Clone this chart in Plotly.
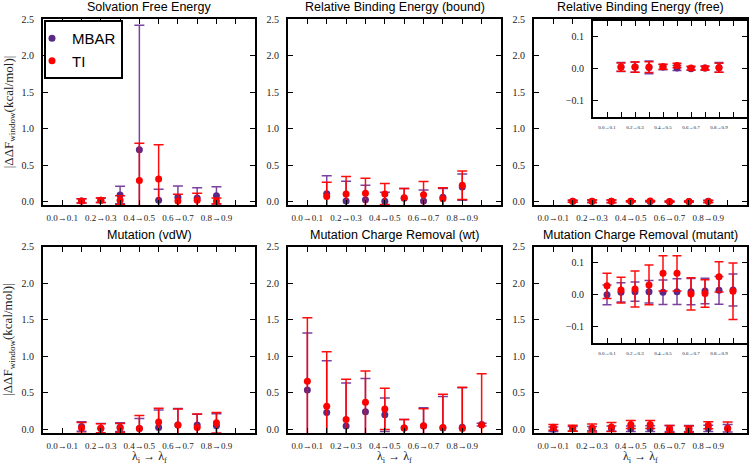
import plotly.graph_objects as go

# ---------------- data ----------------
tick_labels = ["0.0→0.1", "0.2→0.3", "0.4→0.5", "0.6→0.7", "0.8→0.9"]
tick_positions = [0, 2, 4, 6, 8]

titles = ["Solvation Free Energy", "Relative Binding Energy (bound)", "Relative Binding Energy (free)",
          "Mutation (vdW)", "Mutation Charge Removal (wt)", "Mutation Charge Removal (mutant)"]

x_sfe = [1, 2, 3, 4, 5, 6, 7, 8]
mbar_sfe = [0.01, 0.02, 0.09, 0.71, 0.02, 0.06, 0.05, 0.08]
mbar_sfe_err = [0.03, 0.03, 0.12, 1.71, 0.15, 0.155, 0.14, 0.125]
ti_sfe = [0.01, 0.02, 0.02, 0.29, 0.31, 0.01, 0.02, 0.01]
ti_sfe_err = [0.03, 0.03, 0.06, 0.51, 0.47, 0.09, 0.095, 0.04]

x_bound = [1, 2, 3, 4, 5, 6, 7, 8]
mbar_bound = [0.11, 0.01, 0.025, 0.005, 0.045, 0.01, 0.06, 0.20]
mbar_bound_err = [0.245, 0.27, 0.20, 0.125, 0.135, 0.15, 0.12, 0.18]
ti_bound = [0.07, 0.105, 0.115, 0.105, 0.055, 0.095, 0.04, 0.225]
ti_bound_err = [0.195, 0.24, 0.205, 0.145, 0.125, 0.18, 0.15, 0.195]

x_free = [1, 2, 3, 4, 5, 6, 7, 8]
mbar_free = [0.005, 0.005, 0.004, 0.005, 0.002, 0.0, 0.002, 0.004]
mbar_free_err = [0.014, 0.016, 0.02, 0.008, 0.008, 0.005, 0.006, 0.015]
ti_free = [0.005, 0.005, 0.005, 0.006, 0.01, 0.002, 0.002, 0.003]
ti_free_err = [0.013, 0.016, 0.017, 0.008, 0.007, 0.006, 0.006, 0.014]

x_vdw = [1, 2, 3, 4, 5, 6, 7, 8]
mbar_vdw = [0.04, 0.01, 0.03, 0.01, 0.025, 0.06, 0.06, 0.05]
mbar_vdw_err = [0.065, 0.07, 0.06, 0.14, 0.24, 0.225, 0.145, 0.165]
ti_vdw = [0.02, 0.015, 0.02, 0.01, 0.10, 0.06, 0.025, 0.09]
ti_vdw_err = [0.075, 0.06, 0.06, 0.18, 0.19, 0.22, 0.185, 0.14]

x_wt = [0, 1, 2, 3, 4, 5, 6, 7, 8, 9]
mbar_wt = [0.54, 0.23, 0.045, 0.24, 0.20, 0.02, 0.045, 0.02, 0.03, 0.065]
mbar_wt_err = [0.78, 0.71, 0.59, 0.455, 0.23, 0.115, 0.25, 0.43, 0.54, 0.02]
ti_wt = [0.66, 0.315, 0.135, 0.37, 0.28, 0.02, 0.05, 0.025, 0.01, 0.06]
ti_wt_err = [0.867, 0.748, 0.55, 0.43, 0.283, 0.115, 0.233, 0.455, 0.565, 0.70]

x_mut = [0, 1, 2, 3, 4, 5, 6, 7, 8, 9]
mbar_mut = [0.0, 0.008, 0.01, 0.01, 0.008, 0.01, 0.01, 0.012, 0.014, 0.015]
mbar_mut_err = [0.031, 0.03, 0.03, 0.035, 0.038, 0.04, 0.041, 0.04, 0.043, 0.05]
ti_mut = [0.028, 0.015, 0.018, 0.031, 0.067, 0.067, 0.003, 0.004, 0.056, 0.011]
ti_mut_err = [0.039, 0.04, 0.056, 0.062, 0.055, 0.055, 0.05, 0.043, 0.047, 0.088]

main_yticks = [0.0, 0.5, 1.0, 1.5, 2.0, 2.5]
main_yticklabels = ["0.0", "0.5", "1.0", "1.5", "2.0", "2.5"]
inset_yticks = [-0.1, 0.0, 0.1]
inset_yticklabels = ["−0.1", "0.0", "0.1"]

# ---------------- style ----------------
W, H = 750, 465
MBAR_C = "#5b2a86"
MBAR_ERR = "rgba(110,45,150,0.9)"
TI_C = "#ff0000"
TI_ERR = "rgba(255,0,0,0.95)"
SERIF = "Liberation Serif"
SANS = "Liberation Sans"

def px_x(a, b):
    return [a / W, b / W]

def px_y(top, bottom):
    return [1 - bottom / H, 1 - top / H]

col_x = [(43, 255), (288, 501), (534, 747)]
row_y = [(19.3, 205.3), (246.7, 433.0)]

datasets = [
    (x_sfe, mbar_sfe, mbar_sfe_err, ti_sfe, ti_sfe_err),
    (x_bound, mbar_bound, mbar_bound_err, ti_bound, ti_bound_err),
    (x_free, mbar_free, mbar_free_err, ti_free, ti_free_err),
    (x_vdw, mbar_vdw, mbar_vdw_err, ti_vdw, ti_vdw_err),
    (x_wt, mbar_wt, mbar_wt_err, ti_wt, ti_wt_err),
    (x_mut, mbar_mut, mbar_mut_err, ti_mut, ti_mut_err),
]

fig = go.Figure()
layout = dict(
    width=W, height=H, margin=dict(l=0, r=0, t=0, b=0, autoexpand=False),
    paper_bgcolor="white", plot_bgcolor="white",
    showlegend=True,
    annotations=[],
)

def axis_common(font_size):
    return dict(showline=True, linecolor="black", linewidth=2, mirror="allticks",
                ticks="inside", ticklen=5, tickwidth=1, tickcolor="black",
                showgrid=False, zeroline=False,
                tickfont=dict(family=SERIF, size=font_size, color="#222"))

def add_pair(xs, m, me, t, te, axn, show_legend, msize, capw):
    xa = "x" if axn == 1 else f"x{axn}"
    ya = "y" if axn == 1 else f"y{axn}"
    fig.add_trace(go.Scatter(
        x=xs, y=m, mode="markers", name="MBAR", xaxis=xa, yaxis=ya,
        showlegend=show_legend, legendrank=1,
        marker=dict(color=MBAR_C, size=msize),
        error_y=dict(type="data", array=me, color=MBAR_ERR, thickness=1.5, width=capw)))
    fig.add_trace(go.Scatter(
        x=xs, y=t, mode="markers", name="TI", xaxis=xa, yaxis=ya,
        showlegend=show_legend, legendrank=2,
        marker=dict(color=TI_C, size=msize),
        error_y=dict(type="data", array=te, color=TI_ERR, thickness=1.5, width=capw)))

def x_axis(font_size, domain, anchor, standoff):
    xa = axis_common(font_size)
    xa.update(domain=domain, range=[-1, 10], tickmode="array",
              tickvals=tick_positions, ticktext=tick_labels, anchor=anchor,
              ticklabelstandoff=standoff,
              minor=dict(tick0=0, dtick=1, ticks="inside", ticklen=5,
                         tickwidth=1, tickcolor="black", showgrid=False))
    return xa

for i, d in enumerate(datasets):
    r, c = divmod(i, 3)
    n = i + 1
    xs, m, me, t, te = d
    add_pair(xs, m, me, t, te, n, i == 0, 7, 5)
    xkey = "xaxis" if n == 1 else f"xaxis{n}"
    ykey = "yaxis" if n == 1 else f"yaxis{n}"
    layout[xkey] = x_axis(9, px_x(*col_x[c]), "y" if n == 1 else f"y{n}", 3)
    ya = axis_common(10)
    ya.update(domain=px_y(*row_y[r]), range=[-0.05, 2.5], tickmode="array",
              tickvals=main_yticks, ticktext=main_yticklabels,
              anchor="x" if n == 1 else f"x{n}", ticklabelstandoff=5)
    layout[ykey] = ya
    layout["annotations"].append(dict(
        text=titles[i], xref="paper", yref="paper",
        x=(col_x[c][0] + col_x[c][1]) / 2 / W, y=1 - (row_y[r][0] - 12) / H,
        xanchor="center", yanchor="middle", showarrow=False,
        font=dict(family=SANS, size=12.5, color="black")))

# insets
insets = [(3, 7, (593, 747), (20.7, 116.7)), (6, 8, (593, 747), (246.7, 343.0))]
for src, n, (xl, xr), (yt, yb) in insets:
    xs, m, me, t, te = datasets[src - 1]
    add_pair(xs, m, me, t, te, n, False, 7, 4.5)
    layout[f"xaxis{n}"] = x_axis(5, px_x(xl, xr), f"y{n}", 4)
    ya = axis_common(10)
    ya.update(domain=px_y(yt, yb), range=[-0.15, 0.15], tickmode="array",
              tickvals=inset_yticks, ticktext=inset_yticklabels, anchor=f"x{n}",
              ticklabelstandoff=5)
    layout[f"yaxis{n}"] = ya

# y-axis titles (left column)
for r in range(2):
    layout["annotations"].append(dict(
        text="|ΔΔF<sub>window</sub>(kcal/mol)|", xref="paper", yref="paper",
        x=9 / W, y=1 - ((row_y[r][0] + row_y[r][1]) / 2) / H,
        xanchor="center", yanchor="middle", textangle=-90, showarrow=False,
        font=dict(family=SERIF, size=13, color="#222")))

# x-axis titles (bottom row)
for c in range(3):
    layout["annotations"].append(dict(
        text="λ<sub>i</sub> → λ<sub>f</sub>", xref="paper", yref="paper",
        x=(col_x[c][0] + col_x[c][1]) / 2 / W, y=1 - 456.5 / H,
        xanchor="center", yanchor="middle", showarrow=False, borderpad=0,
        font=dict(family=SERIF, size=12, color="#222")))

layout["legend"] = dict(
    x=44 / W, y=1 - 20 / H, xanchor="left", yanchor="top",
    bgcolor="white", bordercolor="black", borderwidth=2,
    font=dict(family=SANS, size=15, color="black"),
    itemwidth=30, tracegroupgap=0, indentation=-14)

fig.update_layout(**layout)
fig.write_html("out.html", config={"displayModeBar": False},
               post_script="document.body.style.margin='0';document.body.style.padding='0';")
